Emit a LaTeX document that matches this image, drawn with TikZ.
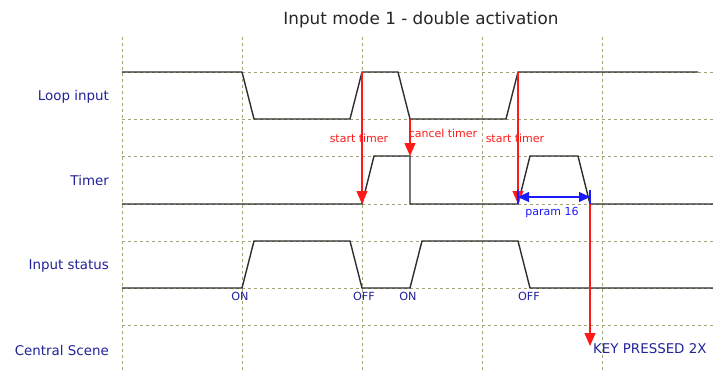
\documentclass[tikz,border=0pt]{standalone}
\usepackage{fontspec}
\setmainfont{DejaVu Sans}
\usetikzlibrary{arrows.meta}
\definecolor{gridc}{HTML}{A3A375}
\definecolor{sigc}{HTML}{2E2E2E}
\definecolor{lblc}{HTML}{22229A}
\definecolor{redc}{HTML}{FF1A1A}
\definecolor{bluec}{HTML}{1A1AFF}
\tikzset{
  gridline/.style={draw=gridc, line width=1pt, dash pattern=on 3pt off 3pt},
  signal/.style={draw=sigc, line width=1.4pt, line join=miter},
  redarrow/.style={draw=redc, line width=1.1pt, -{Triangle[width=11pt,length=13pt]}},
  bluearrow/.style={draw=bluec, line width=1.1pt, {Triangle[width=10pt,length=11pt]}-{Triangle[width=10pt,length=11pt]}},
  rowlabel/.style={anchor=east, text=lblc, font=\fontsize{13.4}{15}\selectfont, inner sep=0pt},
  edgelabel/.style={text=lblc, font=\fontsize{11.2}{12}\selectfont, inner sep=0pt},
  redlabel/.style={text=redc, font=\fontsize{11}{12}\selectfont, inner sep=0pt},
}
\begin{document}
\begin{tikzpicture}[x=1pt,y=-1pt]
\useasboundingbox[fill=white] (0,0) rectangle (713,370);
% grid
\foreach \gx in {122,242,362,482,602} \draw[gridline] (\gx,37) -- (\gx,370);
\foreach \gy in {72,119,156,204,241,288,325} \draw[gridline] (122,\gy) -- (713,\gy);
% title
\node[font=\fontsize{16.8}{19}\selectfont, text=black!85, inner sep=0pt] (title) at (421,20) {Input mode 1 - double activation};
% row labels
\node[rowlabel] (l1) at (109,97) {Loop input};
\node[rowlabel] (l2) at (109,181) {Timer};
\node[rowlabel] (l3) at (109,266) {Input status};
\node[rowlabel] (l4) at (109,350) {Central Scene};
% signals
\draw[signal] (122,72) -- (242,72) -- (254,119) -- (350,119) -- (362,72) -- (398,72) -- (410,119) -- (506,119) -- (518,72) -- (698,72);
\draw[signal] (122,204) -- (362,204) -- (374,156) -- (410,156) -- (410,204) -- (518,204) -- (530,156) -- (578,156) -- (590,204) -- (713,204);
\draw[signal] (122,288) -- (242,288) -- (254,241) -- (350,241) -- (362,288) -- (410,288) -- (422,241) -- (518,241) -- (530,288) -- (713,288);
% coordinates for connectors
\coordinate (s1a) at (362,72);  \coordinate (s1b) at (362,204);
\coordinate (c1a) at (410,119); \coordinate (c1b) at (410,156);
\coordinate (s2a) at (518,72);  \coordinate (s2b) at (518,204);
\coordinate (pa) at (518,197);  \coordinate (pb) at (590,197);
\coordinate (ka) at (590,197);  \coordinate (kb) at (590,346);
% red arrows
\draw[redarrow] (s1a) -- (s1b);
\draw[redarrow] (c1a) -- (c1b);
\draw[redarrow] (s2a) -- (s2b);
\draw[redarrow] (ka) -- (kb);
% blue param arrow
\draw[draw=bluec, line width=1.1pt] (518,190) -- (518,204);
\draw[draw=bluec, line width=1.1pt] (590,190) -- (590,204);
\draw[bluearrow] (pa) -- (pb);
% red labels
\node[redlabel] (t1) at (359,138) {start timer};
\node[redlabel] (t2) at (443,133) {cancel timer};
\node[redlabel] (t3) at (515,138) {start timer};
\node[text=bluec, font=\fontsize{11}{12}\selectfont, inner sep=0pt] (p16) at (552,213) {param 16};
% edge labels
\node[edgelabel] (on1) at (240,296) {ON};
\node[edgelabel] (off1) at (364,296) {OFF};
\node[edgelabel] (on2) at (408,296) {ON};
\node[edgelabel] (off2) at (529,296) {OFF};
% key pressed
\node[anchor=west, text=lblc, font=\fontsize{13.4}{15}\selectfont, inner sep=0pt] (kp) at (593,349) {KEY PRESSED 2X};
\end{tikzpicture}
\end{document}
